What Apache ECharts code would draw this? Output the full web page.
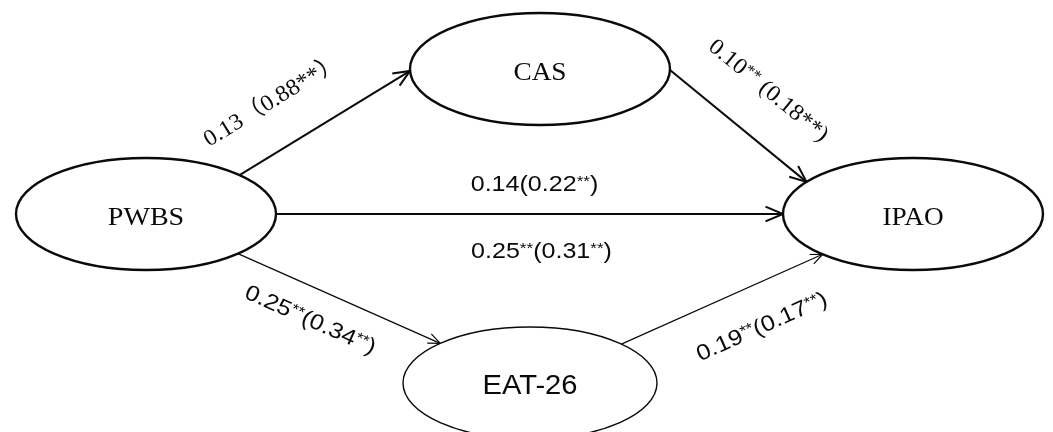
<!DOCTYPE html>
<html>
<head>
<meta charset="utf-8">
<script src="https://cdn.jsdelivr.net/npm/echarts@6/dist/echarts.min.js"></script>
<style>
  html, body { margin: 0; padding: 0; background: #ffffff; }
  #chart { width: 1053px; height: 432px; }
</style>
</head>
<body>
<div id="chart"></div>
<script>
// Latent constructs of the mediation model and their centres on the canvas grid
const nodeNames = ['PWBS', 'CAS', 'IPAO', 'EAT-26'];
const nodeCenterX = [146, 540, 913, 530];
const nodeCenterY = [214, 69, 214, 383];

// Paths between constructs
const pathFrom = ['PWBS', 'CAS', 'PWBS', 'PWBS', 'EAT-26'];
const pathTo = ['CAS', 'IPAO', 'IPAO', 'EAT-26', 'IPAO'];
// where each path leaves / meets an ellipse (parametric angle, degrees)
const pathStartAngle = [-44, 1, 0, 45, -44];
const pathEndAngle = [178, -145, 180, -135, 134];
// coefficient labels: direct (total)
const pathLabels = ['0.13（0.88**）', '0.10** (0.18**)', '0.14(0.22**)', '0.25**(0.34**)', '0.19**(0.17**)'];
const pathSecondLabel = [null, null, '0.25**(0.31**)', null, null];

// ---------- styling ----------
const SERIF = '"Liberation Serif", "Times New Roman", "DejaVu Serif", "Noto Sans CJK SC", serif';
const SANS = '"Liberation Sans", Arial, "DejaVu Sans", sans-serif';
const INK = '#0a0a0a';

const nodeStyle = {
  'PWBS':   { rx: 130, ry: 56, lw: 2.4, font: SERIF, size: 26, sx: 1.08 },
  'CAS':    { rx: 130, ry: 56, lw: 2.4, font: SERIF, size: 26, sx: 1.05 },
  'IPAO':   { rx: 130, ry: 56, lw: 2.4, font: SERIF, size: 26, sx: 1.05 },
  'EAT-26': { rx: 127, ry: 56, lw: 1.4, font: SANS, size: 27, sx: 1.08 }
};

// per-path look: line width, arrow arm length, label font, superscript rule, label offsets
const pathStyle = [
  { lw: 2.0, arm: 18, font: SERIF, size: 23, sx: 1.05, sup: 'none',  off: [-52, -22] },
  { lw: 2.0, arm: 18, font: SERIF, size: 23, sx: 1.05, sup: 'first', off: [30, -35] },
  { lw: 2.0, arm: 19, font: SANS,  size: 22, sx: 1.14, sup: 'all',   off: [5, -29], off2: [12, 38] },
  { lw: 1.2, arm: 13, font: SANS,  size: 22, sx: 1.14, sup: 'all',   off: [-29, 22] },
  { lw: 1.2, arm: 13, font: SANS,  size: 22, sx: 1.14, sup: 'all',   off: [40, 28] }
];

// turn "**" into rich-text superscripts
function richify(text, rule) {
  if (rule === 'none') return text.replace(/\*\*/g, '{st|**}');
  let first = true;
  return text.replace(/\*\*/g, function () {
    if (rule === 'all' || first) { first = false; return '{sup|**}'; }
    return '{st|**}';
  });
}

function anchor(name, deg) {
  const i = nodeNames.indexOf(name);
  const s = nodeStyle[name];
  const t = deg * Math.PI / 180;
  return [nodeCenterX[i] + s.rx * Math.cos(t), nodeCenterY[i] + s.ry * Math.sin(t)];
}

const nodeData = nodeNames.map((n, i) => [nodeCenterX[i], nodeCenterY[i], n]);
const pathData = pathFrom.map((f, i) => {
  const a = anchor(f, pathStartAngle[i]);
  const b = anchor(pathTo[i], pathEndAngle[i]);
  return [a[0], a[1], b[0], b[1]];
});

function labelEl(text, x, y, rot, st) {
  return {
    type: 'text',
    x: x, y: y, rotation: rot,
    scaleX: st.sx,
    style: {
      text: richify(text, st.sup),
      fontFamily: st.font,
      fontSize: st.size,
      fill: INK,
      align: 'center',
      verticalAlign: 'middle',
      rich: {
        sup: { fontFamily: st.font, fontSize: Math.round(st.size * 0.7), verticalAlign: 'top', fill: INK, lineHeight: st.size },
        st: { fontFamily: st.font, fontSize: st.size, fill: INK }
      }
    }
  };
}

const chart = echarts.init(document.getElementById('chart'), null, { renderer: 'canvas' });

chart.setOption({
  backgroundColor: '#ffffff',
  animation: false,
  grid: { left: 0, right: 0, top: 0, bottom: 0 },
  xAxis: { type: 'value', min: 0, max: 1053, show: false },
  yAxis: { type: 'value', min: 0, max: 432, inverse: true, show: false },
  series: [
    {
      // paths with open arrowheads and coefficient labels
      type: 'custom',
      coordinateSystem: 'cartesian2d',
      z: 2,
      data: pathData,
      renderItem: function (params, api) {
        const i = params.dataIndex;
        const st = pathStyle[i];
        const p1 = api.coord([api.value(0), api.value(1)]);
        const p2 = api.coord([api.value(2), api.value(3)]);
        const dx = p2[0] - p1[0], dy = p2[1] - p1[1];
        const ang = Math.atan2(dy, dx);
        const half = 23 * Math.PI / 180;
        const armA = [p2[0] - st.arm * Math.cos(ang - half), p2[1] - st.arm * Math.sin(ang - half)];
        const armB = [p2[0] - st.arm * Math.cos(ang + half), p2[1] - st.arm * Math.sin(ang + half)];
        const mid = [(p1[0] + p2[0]) / 2, (p1[1] + p2[1]) / 2];
        const children = [
          { type: 'line', shape: { x1: p1[0], y1: p1[1], x2: p2[0], y2: p2[1] },
            style: { stroke: INK, lineWidth: st.lw } },
          { type: 'polyline', shape: { points: [armA, p2, armB] },
            style: { stroke: INK, lineWidth: st.lw, fill: null, lineJoin: 'miter' } },
          labelEl(pathLabels[i], mid[0] + st.off[0], mid[1] + st.off[1], -ang, st)
        ];
        if (pathSecondLabel[i]) {
          children.push(labelEl(pathSecondLabel[i], mid[0] + st.off2[0], mid[1] + st.off2[1], -ang, st));
        }
        return { type: 'group', children: children };
      }
    },
    {
      // construct ellipses
      type: 'custom',
      coordinateSystem: 'cartesian2d',
      z: 3,
      data: nodeData,
      renderItem: function (params, api) {
        const name = nodeNames[params.dataIndex];
        const s = nodeStyle[name];
        const c = api.coord([api.value(0), api.value(1)]);
        const r = api.size([s.rx, s.ry]);
        return {
          type: 'group',
          children: [
            { type: 'ellipse', shape: { cx: c[0], cy: c[1], rx: r[0], ry: r[1] },
              style: { fill: '#ffffff', stroke: INK, lineWidth: s.lw } },
            { type: 'text', x: c[0], y: c[1] + 4, scaleX: s.sx,
              style: { text: name, fontFamily: s.font, fontSize: s.size, fill: INK,
                       align: 'center', verticalAlign: 'middle' } }
          ]
        };
      }
    }
  ]
});
</script>
</body>
</html>
